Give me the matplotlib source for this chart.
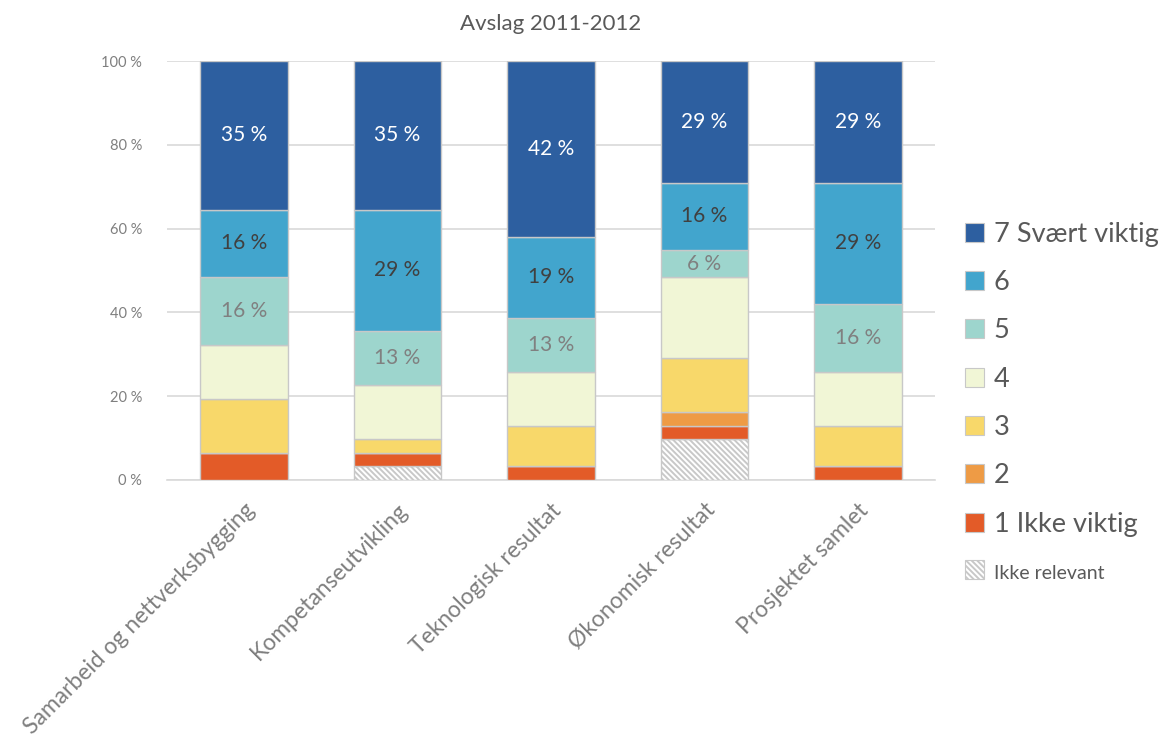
import numpy as np
import matplotlib.pyplot as plt
from matplotlib.patches import Patch

plt.rcParams['font.family'] = ['Lato', 'DejaVu Sans']
plt.rcParams['hatch.color'] = '#666666'
plt.rcParams['hatch.linewidth'] = 1.4

categories = ['Samarbeid og nettverksbygging', 'Kompetanseutvikling',
              'Teknologisk resultat', 'Økonomisk resultat', 'Prosjektet samlet']

# share of answers in percent (31 respondents)
ikke_relevant = [0.0, 3.23, 0.0, 9.68, 0.0]
s1 = [6.45, 3.23, 3.23, 3.23, 3.23]
s2 = [0.0, 0.0, 0.0, 3.23, 0.0]
s3 = [12.90, 3.23, 9.68, 12.90, 9.68]
s4 = [12.90, 12.90, 12.90, 19.35, 12.90]
s5 = [16.13, 12.90, 12.90, 6.45, 16.13]
s6 = [16.13, 29.03, 19.35, 16.13, 29.03]
s7 = [35.48, 35.48, 41.94, 29.03, 29.03]

series = [ikke_relevant, s1, s2, s3, s4, s5, s6, s7]
names = ['Ikke relevant', '1 Ikke viktig', '2', '3', '4', '5', '6', '7 Svært viktig']
colors = ['white', '#E35B28', '#EE9B45', '#F8D86A', '#F1F6D6', '#9DD5CD', '#42A5CD', '#2D5FA0']
label_colors = {5: '#808080', 6: '#404040', 7: 'white'}
HATCH = '\\\\\\\\\\\\'

fig = plt.figure(figsize=(11.76, 7.44), dpi=100)
ax = fig.add_axes([0.142, 0.355, 0.653, 0.563])

x = np.arange(len(categories))
width = 0.57
bottom = np.zeros(len(categories))
for i, vals in enumerate(series):
    vals = np.array(vals)
    ax.bar(x, vals, width, bottom=bottom, color=colors[i],
           edgecolor='#c8c8c8', linewidth=1.0, zorder=3,
           hatch=HATCH if i == 0 else None)
    if i in label_colors:
        for xi, v, b in zip(x, vals, bottom):
            if v > 0:
                ax.text(xi, b + v / 2, f'{round(v):.0f} %', ha='center', va='center',
                        fontsize=15, color=label_colors[i], zorder=4)
    bottom += vals

ax.set_xlim(-0.5, len(categories) - 0.5)
ax.set_ylim(0, 100)
ax.set_yticks(np.arange(0, 101, 20))
ax.set_yticklabels([f'{v} %' for v in range(0, 101, 20)], fontsize=10.5, color='#7f7f7f')
ax.set_xticks(x)
ax.set_xticklabels(categories, rotation=45, ha='right', rotation_mode='anchor',
                   fontsize=16.5, color='#7f7f7f')
ax.tick_params(axis='both', length=0)
ax.tick_params(axis='y', pad=18)
ax.tick_params(axis='x', pad=14)
ax.grid(axis='y', color='#d9d9d9', linewidth=1.2, zorder=0)
for s in ['top', 'right', 'left']:
    ax.spines[s].set_visible(False)
ax.spines['bottom'].set_color('#d9d9d9')
ax.spines['bottom'].set_linewidth(1.2)

ax.set_title('Avslag 2011-2012', fontsize=16, color='#595959', pad=22)

handles = []
for i in range(len(series) - 1, -1, -1):
    handles.append(Patch(facecolor=colors[i], edgecolor='#c8c8c8', linewidth=0.8,
                         hatch=HATCH if i == 0 else None, label=names[i]))
leg = fig.legend(handles=handles, loc='center left', bbox_to_anchor=(0.8, 0.46),
                 frameon=False, fontsize=19.5, handlelength=0.7, handleheight=0.7,
                 handletextpad=0.35, labelspacing=0.86)
for t in leg.get_texts():
    t.set_color('#595959')
leg.get_texts()[-1].set_fontsize(14)

fig.savefig('out.png', dpi=100)
